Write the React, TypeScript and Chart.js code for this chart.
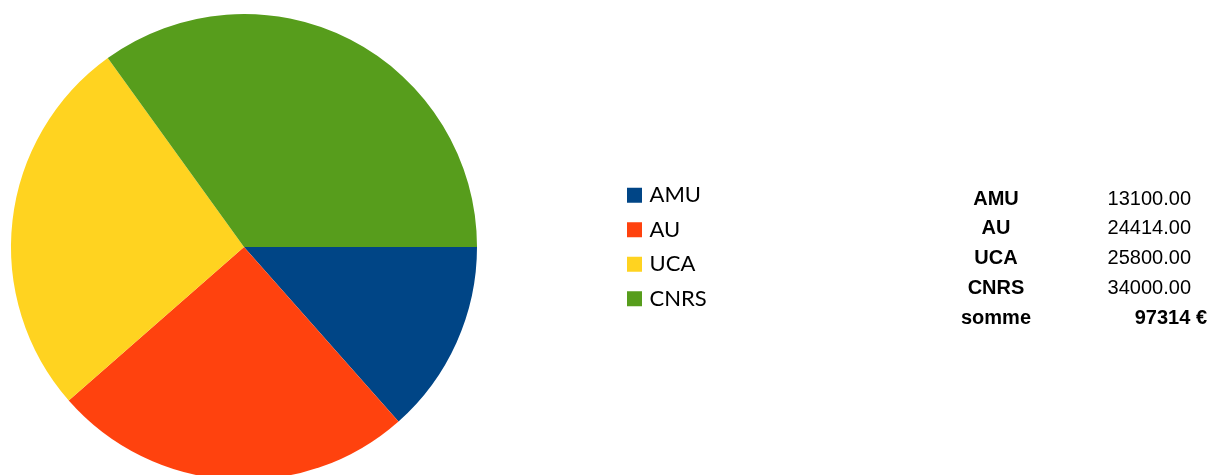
import { useEffect, useRef } from 'react';
import { Chart, registerables } from 'chart.js';

Chart.register(...registerables);

const categories = ['AMU', 'AU', 'UCA', 'CNRS'];
const amounts = [13100, 24414, 25800, 34000];
const sliceColors = ['#004586', '#ff420e', '#ffd320', '#579d1c'];
const sumLabel = 'somme';
const currency = '€';

// canvas is shifted left so the pie's chart area can extend past the page edge
const SHIFT = 130;
const CANVAS_W = 1211 + SHIFT;
const CANVAS_H = 480;
const LEGEND_FONT_SIZE = 22;
const LEGEND_PAD = 12.5;
const LEGEND_BOX = 8;

export default function App() {
  const canvasRef = useRef<HTMLCanvasElement>(null);

  useEffect(() => {
    const canvas = canvasRef.current;
    if (!canvas) return;
    const total = amounts.reduce((a, b) => a + b, 0);

    // measure legend width so the legend lands at the intended spot
    const mctx = document.createElement('canvas').getContext('2d')!;
    mctx.font = `${LEGEND_FONT_SIZE}px Lato`;
    const maxText = Math.max(...categories.map((c) => mctx.measureText(c).width));
    const legendW = LEGEND_PAD + LEGEND_BOX + LEGEND_FONT_SIZE / 2 + maxText + 10;
    const chartRight = 618 + SHIFT;
    const padRight = CANVAS_W - chartRight - legendW;

    const tablePlugin = {
      id: 'valueTable',
      afterDraw(chart: any) {
        const ctx = chart.ctx as CanvasRenderingContext2D;
        ctx.save();
        ctx.translate(SHIFT, 0);
        ctx.fillStyle = '#000';
        ctx.textBaseline = 'alphabetic';
        const y0 = 204.5;
        const step = 29.8;
        categories.forEach((c, i) => {
          const y = y0 + i * step;
          ctx.font = 'bold 20px "Liberation Sans"';
          ctx.textAlign = 'center';
          ctx.fillText(c, 996, y);
          ctx.font = '20px "Liberation Sans"';
          ctx.textAlign = 'right';
          ctx.fillText(amounts[i].toFixed(2), 1191, y);
        });
        const ys = y0 + categories.length * step;
        ctx.font = 'bold 20px "Liberation Sans"';
        ctx.textAlign = 'center';
        ctx.fillText(sumLabel, 996, ys);
        ctx.textAlign = 'right';
        ctx.fillText(`${total} ${currency}`, 1207, ys);
        ctx.restore();
      },
    };

    const baseGen = (Chart as any).overrides.doughnut.plugins.legend.labels.generateLabels;

    const chart = new Chart(canvas, {
      type: 'doughnut',
      data: {
        labels: categories,
        datasets: [
          {
            data: amounts,
            backgroundColor: sliceColors,
            borderWidth: 0,
            hoverOffset: 0,
            offset: 0,
          },
        ],
      },
      options: {
        responsive: false,
        animation: false,
        events: [],
        cutout: 0,
        rotation: 90,
        layout: { padding: { left: 0, right: padRight, top: 14, bottom: 0 } },
        plugins: {
          tooltip: { enabled: false },
          legend: {
            position: 'right',
            labels: {
              color: '#000',
              font: { family: 'Lato', size: LEGEND_FONT_SIZE },
              boxWidth: LEGEND_BOX,
              boxHeight: LEGEND_BOX,
              padding: LEGEND_PAD,
              generateLabels: (ch: any) =>
                baseGen(ch).map((it: any) => ({
                  ...it,
                  lineWidth: 7,
                  strokeStyle: it.fillStyle,
                })),
            },
          },
        },
      } as any,
      plugins: [tablePlugin],
    });

    return () => chart.destroy();
  }, []);

  return (
    <div
      style={{
        position: 'fixed',
        left: 0,
        top: 0,
        width: 1211,
        height: 475,
        overflow: 'hidden',
        background: '#fff',
      }}
    >
      <canvas
        ref={canvasRef}
        width={CANVAS_W}
        height={CANVAS_H}
        style={{ position: 'absolute', left: -SHIFT, top: 0, width: CANVAS_W, height: CANVAS_H, display: 'block' }}
      />
    </div>
  );
}
